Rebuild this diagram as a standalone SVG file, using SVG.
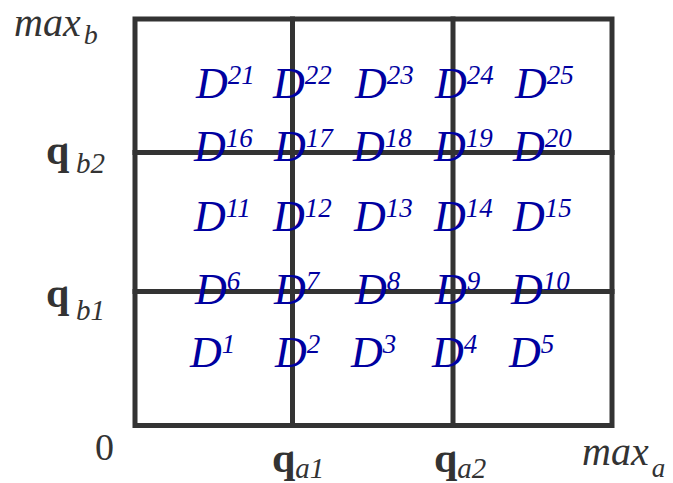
<svg xmlns="http://www.w3.org/2000/svg" width="673" height="483" viewBox="0 0 673 483">
<style>
.ln{stroke:#333333;stroke-width:5;fill:none;stroke-linecap:square}
text{font-family:'Liberation Serif','Times New Roman',Times,'DejaVu Serif',serif}
.d{font-style:italic;font-size:44px;fill:#0000a0}
.s{font-size:27px}
.ax{fill:#333333}
.it{font-style:italic}
.q{font-weight:bold;font-size:42px}
</style>
<rect width="673" height="483" fill="#ffffff"/>
<g id="grid">
<rect class="ln" x="135" y="19" width="477" height="406.5"/>
<line class="ln" x1="292.5" y1="19" x2="292.5" y2="425.5"/>
<line class="ln" x1="453" y1="19" x2="453" y2="425.5"/>
<line class="ln" x1="135" y1="152.5" x2="612" y2="152.5"/>
<line class="ln" x1="135" y1="291.5" x2="612" y2="291.5"/>
</g>
<g id="axes">
<text class="ax it" x="14" y="36" font-size="40">max<tspan font-size="28" dx="3" dy="8">b</tspan></text>
<text class="ax q" x="46" y="164">q</text>
<text class="ax it" x="76" y="173" font-size="29">b2</text>
<text class="ax q" x="46" y="307">q</text>
<text class="ax it" x="76" y="320" font-size="29">b1</text>
<text class="ax" x="95" y="460" font-size="38">0</text>
<text class="ax q" x="272" y="472">q<tspan class="it" font-weight="normal" font-size="29" dy="6">a1</tspan></text>
<text class="ax q" x="434" y="472">q<tspan class="it" font-weight="normal" font-size="29" dy="6">a2</tspan></text>
<text class="ax it" x="582" y="465" font-size="40">max<tspan font-size="27" dx="3" dy="12">a</tspan></text>
</g>
<g id="cells">
<text class="d" x="196" y="98">D<tspan class="s" dy="-14">21</tspan></text>
<text class="d" x="273" y="98">D<tspan class="s" dy="-14">22</tspan></text>
<text class="d" x="355" y="98">D<tspan class="s" dy="-14">23</tspan></text>
<text class="d" x="435" y="98">D<tspan class="s" dy="-14">24</tspan></text>
<text class="d" x="515" y="98">D<tspan class="s" dy="-14">25</tspan></text>
<text class="d" x="194" y="161">D<tspan class="s" dy="-14">16</tspan></text>
<text class="d" x="274" y="161">D<tspan class="s" dy="-14">17</tspan></text>
<text class="d" x="353" y="161">D<tspan class="s" dy="-14">18</tspan></text>
<text class="d" x="434" y="161">D<tspan class="s" dy="-14">19</tspan></text>
<text class="d" x="513" y="161">D<tspan class="s" dy="-14">20</tspan></text>
<text class="d" x="194" y="231">D<tspan class="s" dy="-14">11</tspan></text>
<text class="d" x="273" y="231">D<tspan class="s" dy="-14">12</tspan></text>
<text class="d" x="354" y="231">D<tspan class="s" dy="-14">13</tspan></text>
<text class="d" x="434" y="231">D<tspan class="s" dy="-14">14</tspan></text>
<text class="d" x="513" y="231">D<tspan class="s" dy="-14">15</tspan></text>
<text class="d" x="195" y="304">D<tspan class="s" dy="-14">6</tspan></text>
<text class="d" x="274" y="304">D<tspan class="s" dy="-14">7</tspan></text>
<text class="d" x="355" y="304">D<tspan class="s" dy="-14">8</tspan></text>
<text class="d" x="435" y="304">D<tspan class="s" dy="-14">9</tspan></text>
<text class="d" x="511" y="304">D<tspan class="s" dy="-14">10</tspan></text>
<text class="d" x="190" y="367">D<tspan class="s" dy="-14">1</tspan></text>
<text class="d" x="275" y="367">D<tspan class="s" dy="-14">2</tspan></text>
<text class="d" x="351" y="367">D<tspan class="s" dy="-14">3</tspan></text>
<text class="d" x="432" y="367">D<tspan class="s" dy="-14">4</tspan></text>
<text class="d" x="509" y="367">D<tspan class="s" dy="-14">5</tspan></text>
</g>
</svg>
